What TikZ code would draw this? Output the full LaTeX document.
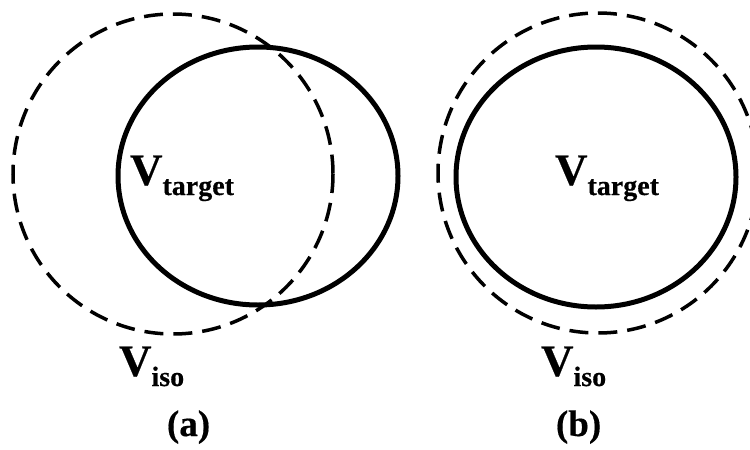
\documentclass[tikz,border=0pt]{standalone}
\usepackage{fontspec}
\setmainfont{Liberation Serif}[FakeBold=0.4]
\newcommand{\bigV}{{\fontsize{45}{45}\selectfont\bfseries V}}
\newcommand{\subtxt}[1]{\raisebox{-10pt}{\fontsize{28}{28}\selectfont\bfseries #1}}
\begin{document}
\begin{tikzpicture}[x=1pt,y=-1pt,
  solidcurve/.style={line width=5pt},
  dashcurve/.style={line width=3.5pt, dash pattern=on 19pt off 10pt},
  lab/.style={anchor=base west, inner sep=0pt, outer sep=0pt}]
\useasboundingbox (0,0) rectangle (750,450);
% (a)
\draw[dashcurve] (173,174) ellipse [x radius=160, y radius=160];
\draw[solidcurve] (258,176) ellipse [x radius=140, y radius=129];
\node[lab] (ta) at (130,185) {\bigV\subtxt{target}};
\node[lab] (ia) at (119,376) {\bigV\subtxt{iso}};
\node[lab] (la) at (167,436) {\fontsize{37}{37}\selectfont\bfseries (a)};
% (b)
\draw[dashcurve] (598,173) ellipse [x radius=160, y radius=160];
\draw[solidcurve] (596,177) ellipse [x radius=140, y radius=130];
\node[lab] (tb) at (555,185) {\bigV\subtxt{target}};
\node[lab] (ib) at (541,376) {\bigV\subtxt{iso}};
\node[lab] (lb) at (556,436) {\fontsize{37}{37}\selectfont\bfseries (b)};
\end{tikzpicture}
\end{document}
